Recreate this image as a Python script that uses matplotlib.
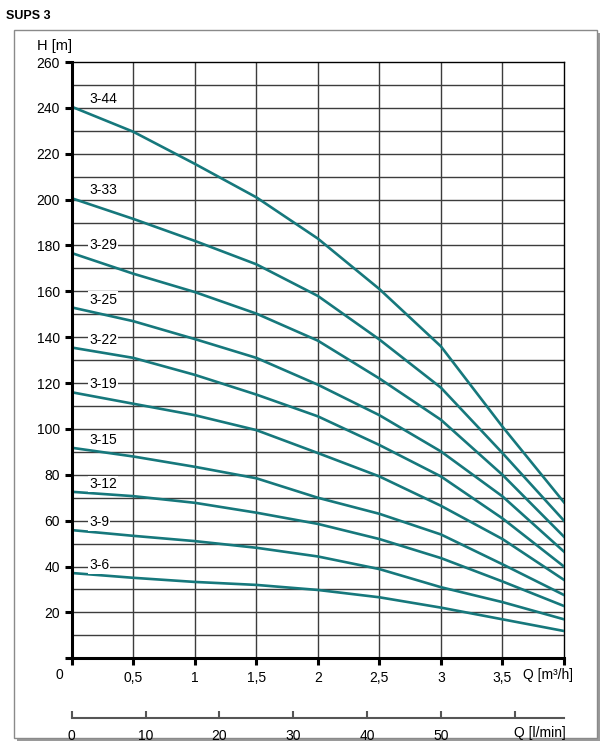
import matplotlib
matplotlib.use('Agg')
import matplotlib.pyplot as plt
from matplotlib.patches import Rectangle

plt.rcParams['font.family'] = ['Liberation Sans', 'DejaVu Sans']

q = [0, 0.5, 1, 1.5, 2, 2.5, 3, 3.5, 4]

# pump heads H [m]
h_3_44 = [240.5, 229.6, 215.6, 201, 183, 161, 136, 101, 68]
h_3_33 = [200.6, 191.6, 182, 171.8, 158, 139, 118, 89.5, 60]
h_3_29 = [176.7, 167.7, 159.7, 150.3, 138.5, 122, 104, 80, 53]
h_3_25 = [153, 147, 139.2, 131, 119.3, 106, 90.2, 70.6, 46.5]
h_3_22 = [135.5, 131, 123.6, 115, 105.5, 93, 79.3, 61, 40]
h_3_19 = [116, 111, 106, 99.5, 89.5, 79.3, 66.5, 52, 34.2]
h_3_15 = [91.8, 88, 83.5, 78.5, 70, 63, 54, 41, 27.6]
h_3_12 = [72.6, 70.7, 67.8, 63.5, 58.6, 52, 43.7, 33.5, 22.8]
h_3_9 = [55.9, 53.4, 51.1, 48.2, 44.4, 38.9, 31, 24.5, 17]
h_3_6 = [37.2, 35.1, 33.3, 32, 29.8, 26.6, 22.1, 17, 11.9]

names = ['3-44', '3-33', '3-29', '3-25', '3-22', '3-19', '3-15', '3-12', '3-9', '3-6']
heads = [h_3_44, h_3_33, h_3_29, h_3_25, h_3_22, h_3_19, h_3_15, h_3_12, h_3_9, h_3_6]

x_ticks = [0, 0.5, 1, 1.5, 2, 2.5, 3, 3.5, 4]
x_labels = ['', '0,5', '1', '1,5', '2', '2,5', '3', '3,5', '']
y_ticks = list(range(0, 261, 20))
lmin_ticks = [0, 10, 20, 30, 40, 50, 60]

W, H = 607, 751
FS = 10
fig = plt.figure(figsize=(W / 100, H / 100), dpi=100)

# frame with a little shadow
fig.patches.append(Rectangle((17 / W, 1 - 741 / H), 583 / W, 708 / H,
                             transform=fig.transFigure, facecolor='#9a9a9a',
                             edgecolor='none', zorder=-2))
fig.patches.append(Rectangle((14 / W, 1 - 738 / H), 583 / W, 708 / H,
                             transform=fig.transFigure, facecolor='white',
                             edgecolor='#8a8a8a', lw=1, zorder=-1))
fig.text(6 / W, 1 - 16 / H, 'SUPS 3', fontsize=9, fontweight='bold',
         va='center', ha='left')

ax = fig.add_axes([71.7 / W, 1 - 658.3 / H, (564 - 71.7) / W, (658.3 - 62) / H])
ax.set_zorder(2)
ax.set_xlim(0, 4)
ax.set_ylim(0, 260)
ax.patch.set_alpha(0)

# grid
for gx in [0.5 * i for i in range(1, 8)]:
    ax.axvline(gx, color='#3c3c3c', lw=1.0, zorder=1)
for gy in range(10, 260, 10):
    ax.axhline(gy, color='#3c3c3c', lw=1.0, zorder=1)

for sp in ['top', 'right']:
    ax.spines[sp].set_linewidth(1.0)
for sp in ['left', 'bottom']:
    ax.spines[sp].set_linewidth(2.2)
    ax.spines[sp].set_zorder(4)

teal = '#16787c'
for name, hh in zip(names, heads):
    ax.plot(q, hh, color=teal, lw=1.9, zorder=3, solid_joinstyle='round')
    ax.text(0.14, hh[0] + 3.4, name, fontsize=FS, va='center', ha='left',
            zorder=5, bbox=dict(facecolor='white', edgecolor='none', pad=1.0))

ax.set_xticks(x_ticks)
ax.set_xticklabels(x_labels)
ax.set_yticks(y_ticks)
ax.set_yticklabels([''] + [str(v) for v in y_ticks[1:]])
ax.tick_params(axis='both', direction='out', length=5, width=2.2, labelsize=FS)
ax.tick_params(axis='x', pad=4)
ax.tick_params(axis='y', pad=3.5)
ax.text(-0.1, -7.3, '0', fontsize=FS, ha='center', va='center', clip_on=False)
ax.text(3.67, -7.3, 'Q [m³/h]', fontsize=FS, ha='left', va='center', clip_on=False)
ax.text(-0.14, 267, 'H [m]', fontsize=FS + 0.5, ha='center', va='center', clip_on=False)

# second flow scale in l/min
ax2 = fig.add_axes([71.7 / W, 1 - 718 / H, (564 - 71.7) / W, 0.0001])
ax2.set_zorder(2)
ax2.set_xlim(0, 4 * 1000 / 60)
ax2.patch.set_alpha(0)
for sp in ['top', 'right', 'left']:
    ax2.spines[sp].set_visible(False)
ax2.spines['bottom'].set_color('#555555')
ax2.spines['bottom'].set_linewidth(1.5)
ax2.set_yticks([])
ax2.set_xticks(lmin_ticks)
ax2.set_xticklabels([str(v) for v in lmin_ticks[:-1]] + [''])
ax2.tick_params(axis='x', direction='in', length=5, width=1.5, color='#555555',
                labelsize=FS, pad=8)
fig.text(566 / W, 1 - 733 / H, 'Q [l/min]', fontsize=FS, ha='right', va='center')

fig.savefig('out.png', dpi=100)
